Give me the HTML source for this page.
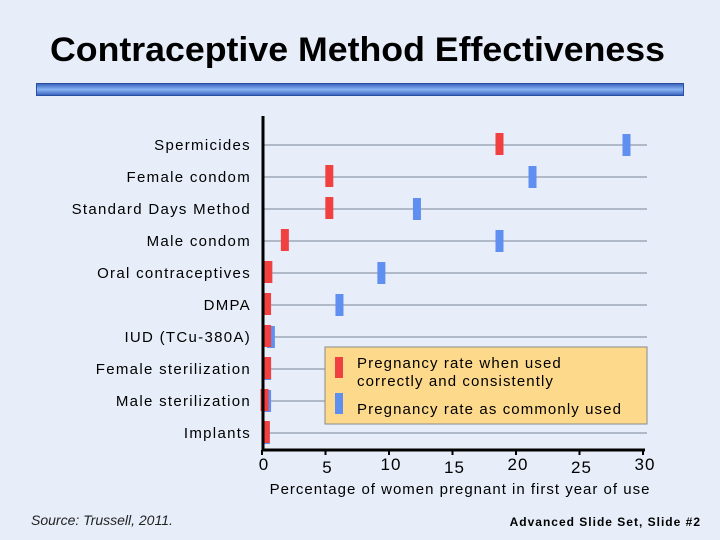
<!DOCTYPE html>
<html><head><meta charset="utf-8"><style>
body{margin:0;width:720px;height:540px;background:#e7eef9;font-family:"Liberation Sans",sans-serif;overflow:hidden;position:relative}
.t{position:absolute}
</style></head><body>
<div class="t" style="left:0;width:715px;top:31px;text-align:center;font-size:34px;font-weight:bold;color:#000;transform:scaleX(1.05)">Contraceptive Method Effectiveness</div>
<div class="t" style="left:36px;top:83px;width:648px;height:13px;background:linear-gradient(#3a66c0,#8ab4f4 50%,#3a66c0);border:1px solid #2a4f9e;box-sizing:border-box"></div>
<svg class="t" style="left:0;top:0" width="720" height="540">
<g id="g"></g>
</svg>
<div class="t" style="left:31px;top:512px;font-size:14px;font-style:italic;color:#222">Source: Trussell, 2011.</div>
<div class="t" style="right:19px;top:515px;font-size:12px;font-weight:bold;color:#000;letter-spacing:1px">Advanced Slide Set, Slide #2</div>
<script>
const categories=["Spermicides","Female condom","Standard Days Method","Male condom","Oral contraceptives","DMPA","IUD (TCu-380A)","Female sterilization","Male sterilization","Implants"];
const perfectUse=[18.7,5.3,5.3,1.8,0.5,0.4,0.4,0.4,0.2,0.3];
const typicalUse=[28.7,21.3,12.2,18.7,9.4,6.1,0.7,0.4,0.4,0.3];
const ticks=[0,5,10,15,20,25,30];
const NS="http://www.w3.org/2000/svg";
const g=document.getElementById('g');
const x0=262,x1=643,xs=v=>x0+(x1-x0)*v/30;
const ys=i=>145+i*32;
function mk(tag,a){const e=document.createElementNS(NS,tag);for(const k in a)e.setAttribute(k,a[k]);g.appendChild(e);return e;}
categories.forEach((c,i)=>{
  const l=mk('line',{x1:263,x2:647,y1:ys(i),y2:ys(i),stroke:'#7a8498','stroke-width':1});
  
  
  const t=mk('text',{x:251,y:ys(i)+5,'text-anchor':'end','font-size':15,fill:'#000','font-family':'Liberation Sans','letter-spacing':'1.3'});
  t.textContent=c;
  
  
});
const lb=mk('rect',{x:325,y:347,width:322,height:77,fill:'#fdd98c',stroke:'#8a8a8a'});


[[typicalUse,'#5f8ff0',0],[perfectUse,'#f04040',-1]].forEach(([arr,col,off])=>{
  arr.forEach((v,i)=>{
    const r=mk('rect',{x:xs(v)-4,y:ys(i)-11+off,width:8,height:22,fill:col});
    
    
  });
});
mk('rect',{x:335,y:357,width:8,height:21,fill:'#f04040'});
mk('rect',{x:335,y:393,width:8,height:21,fill:'#5f8ff0'});
[["Pregnancy rate when used",368],["correctly and consistently",386],["Pregnancy rate as commonly used",414]].forEach(([s,y])=>{
  const t=mk('text',{x:357,y:y,'font-size':15,fill:'#000','font-family':'Liberation Sans','letter-spacing':'1.1'});t.textContent=s;
  
  
});
const ya=mk('line',{x1:263,x2:263,y1:116,y2:451,stroke:'#000','stroke-width':3});


const xa=mk('line',{x1:262,x2:645,y1:450,y2:450,stroke:'#000','stroke-width':3});


ticks.forEach((v,i)=>{
  mk('line',{x1:xs(v),x2:xs(v),y1:450,y2:455,stroke:'#000','stroke-width':2});
  const t=mk('text',{x:xs(v)+2,y:(i%2? 473:470),'text-anchor':'middle','font-size':17,fill:'#000','font-family':'Liberation Sans','letter-spacing':'1'});
  t.textContent=v;
  
  
});
const xt=mk('text',{x:460,y:494,'text-anchor':'middle','font-size':15,fill:'#000','font-family':'Liberation Sans','letter-spacing':'1'});
xt.textContent="Percentage of women pregnant in first year of use";


</script>
</body></html>
